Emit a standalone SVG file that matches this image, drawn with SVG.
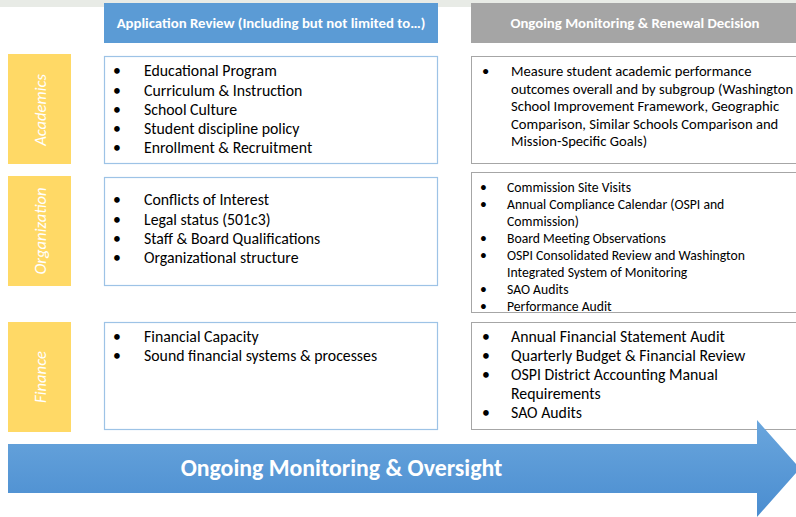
<svg xmlns="http://www.w3.org/2000/svg" width="796" height="517" viewBox="0 0 796 517">
<style>
text{font-family:Carlito,Lato,"Open Sans",sans-serif}
.hd{fill:#ffffff;font-weight:bold;font-size:14.8px;text-anchor:middle}
.cat{fill:#ffffff;font-style:italic;font-size:16.6px;text-anchor:middle}
.yl{fill:#ffd966}
.ab{fill:#ffffff;stroke:#9dc3e6;stroke-width:1.2}
.rb{fill:#ffffff;stroke:#a6a6a6;stroke-width:1}
.l1{fill:#000000;font-size:15.8px}
.l2{fill:#000000;font-size:14.6px}
.l3{fill:#000000;font-size:13.7px}
</style>
<defs>
<linearGradient id="ag" x1="0" y1="0" x2="0" y2="1">
<stop offset="0" stop-color="#6aa6dd"/>
<stop offset="1" stop-color="#4a8dd0"/>
</linearGradient>
</defs>
<rect x="0" y="0" width="796" height="517" fill="#ffffff"/>
<rect x="0" y="0" width="796" height="7" fill="#e8ebe6"/>

<g id="header-app">
<rect x="104" y="3" width="334" height="40" fill="#5b9bd5"/>
<text class="hd" x="271" y="28">Application Review (Including but not limited to…)</text>
</g>
<g id="header-renewal">
<rect x="471" y="3" width="325" height="40" fill="#a5a5a5"/>
<text class="hd" x="635" y="28">Ongoing Monitoring &amp; Renewal Decision</text>
</g>

<g id="cat-academics">
<rect class="yl" x="8" y="54" width="63" height="110"/>
<text class="cat" transform="translate(46 110) rotate(-90)">Academics</text>
</g>
<g id="cat-organization">
<rect class="yl" x="8" y="176" width="63" height="110"/>
<text class="cat" transform="translate(46 231) rotate(-90)">Organization</text>
</g>
<g id="cat-finance">
<rect class="yl" x="8" y="322" width="63" height="110"/>
<text class="cat" transform="translate(46 377) rotate(-90)">Finance</text>
</g>

<g id="app-academics">
<rect class="ab" x="104.5" y="56.5" width="333" height="107"/>
<text class="l1"><tspan x="113" y="76">•</tspan><tspan x="144" y="76">Educational Program</tspan>
<tspan x="113" y="95.5">•</tspan><tspan x="144" y="95.5">Curriculum &amp; Instruction</tspan>
<tspan x="113" y="115">•</tspan><tspan x="144" y="115">School Culture</tspan>
<tspan x="113" y="134">•</tspan><tspan x="144" y="134">Student discipline policy</tspan>
<tspan x="113" y="153">•</tspan><tspan x="144" y="153">Enrollment &amp; Recruitment</tspan></text>
</g>
<g id="app-organization">
<rect class="ab" x="104.5" y="177.5" width="333" height="108"/>
<text class="l1"><tspan x="113" y="205">•</tspan><tspan x="144" y="205">Conflicts of Interest</tspan>
<tspan x="113" y="224.5">•</tspan><tspan x="144" y="224.5">Legal status (501c3)</tspan>
<tspan x="113" y="244">•</tspan><tspan x="144" y="244">Staff &amp; Board Qualifications</tspan>
<tspan x="113" y="263">•</tspan><tspan x="144" y="263">Organizational structure</tspan></text>
</g>
<g id="app-finance">
<rect class="ab" x="104.5" y="322.5" width="333" height="107"/>
<text class="l1"><tspan x="113" y="342">•</tspan><tspan x="144" y="342">Financial Capacity</tspan>
<tspan x="113" y="361">•</tspan><tspan x="144" y="361">Sound financial systems &amp; processes</tspan></text>
</g>

<g id="mon-academics">
<rect class="rb" x="471.5" y="56.5" width="330" height="107"/>
<text class="l2"><tspan x="482" y="76">•</tspan><tspan x="511" y="76">Measure student academic performance</tspan>
<tspan x="511" y="93.5">outcomes overall and by subgroup (Washington</tspan>
<tspan x="511" y="111">School Improvement Framework, Geographic</tspan>
<tspan x="511" y="128.5">Comparison, Similar Schools Comparison and</tspan>
<tspan x="511" y="146">Mission-Specific Goals)</tspan></text>
</g>
<g id="mon-organization">
<rect class="rb" x="471.5" y="172.5" width="330" height="140"/>
<text class="l3"><tspan x="480" y="191.5">•</tspan><tspan x="507" y="191.5">Commission Site Visits</tspan>
<tspan x="480" y="208.5">•</tspan><tspan x="507" y="208.5">Annual Compliance Calendar (OSPI and</tspan>
<tspan x="507" y="225.5">Commission)</tspan>
<tspan x="480" y="242.5">•</tspan><tspan x="507" y="242.5">Board Meeting Observations</tspan>
<tspan x="480" y="259.5">•</tspan><tspan x="507" y="259.5">OSPI Consolidated Review and Washington</tspan>
<tspan x="507" y="276.5">Integrated System of Monitoring</tspan>
<tspan x="480" y="293.5">•</tspan><tspan x="507" y="293.5">SAO Audits</tspan>
<tspan x="480" y="310.5">•</tspan><tspan x="507" y="310.5">Performance Audit</tspan></text>
</g>
<g id="mon-finance">
<rect class="rb" x="471.5" y="322.5" width="330" height="107"/>
<text class="l1"><tspan x="482" y="342">•</tspan><tspan x="511" y="342">Annual Financial Statement Audit</tspan>
<tspan x="482" y="361">•</tspan><tspan x="511" y="361">Quarterly Budget &amp; Financial Review</tspan>
<tspan x="482" y="380">•</tspan><tspan x="511" y="380">OSPI District Accounting Manual</tspan>
<tspan x="511" y="399">Requirements</tspan>
<tspan x="482" y="418">•</tspan><tspan x="511" y="418">SAO Audits</tspan></text>
</g>

<g id="connectors">
<g id="arrow-oversight">
<polygon points="8,444 757,444 757,420 800,468.5 757,517 757,493 8,493" fill="url(#ag)"/>
<text x="341.5" y="475.5" fill="#ffffff" font-weight="bold" font-size="23.8px" text-anchor="middle">Ongoing Monitoring &amp; Oversight</text>
</g>
</g>
</svg>
